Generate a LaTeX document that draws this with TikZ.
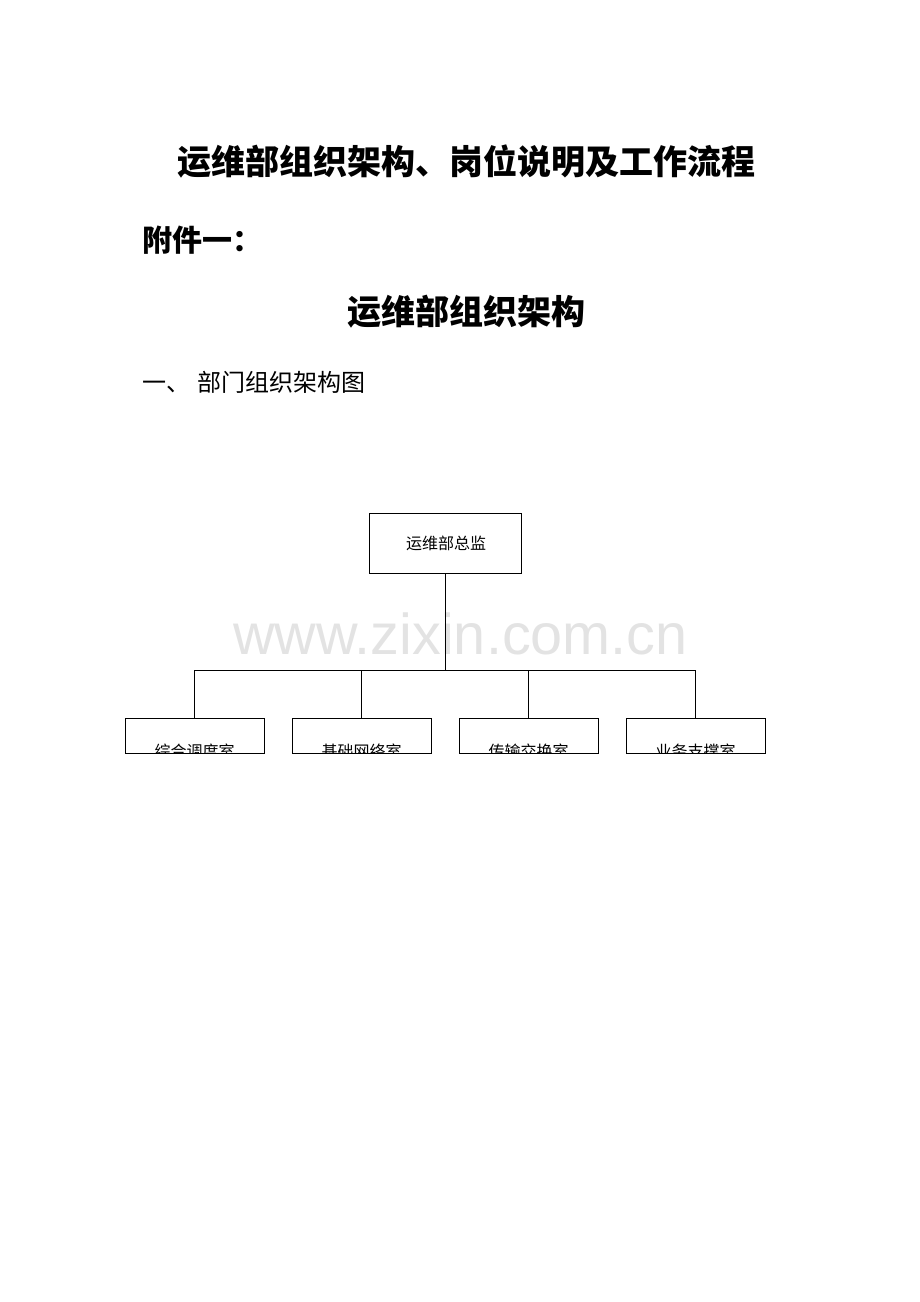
\documentclass[tikz,border=0pt]{standalone}
\usepackage{fontspec}
\newfontfamily\cjk{Noto Sans CJK SC}
\newfontfamily\wmfont{Liberation Sans}
\usepackage{tikz}

\begin{document}
\begin{tikzpicture}[x=1pt, y=-1pt,
  unitbox/.style={draw, line width=0.9pt, inner sep=0pt},
  unittext/.style={inner sep=0pt, font=\cjk\fontsize{16}{16}\selectfont},
  link/.style={draw, line width=0.9pt}]
  \useasboundingbox (0,0) rectangle (920,1302);

  % headings
  \node[inner sep=0pt, font=\cjk\bfseries\fontsize{34}{34}\selectfont] (title) at (466.5,162) {运维部组织架构、岗位说明及工作流程};
  \node[inner sep=0pt, anchor=west, font=\cjk\bfseries\fontsize{30}{30}\selectfont] (annex) at (142,240) {附件一：};
  \node[inner sep=0pt, font=\cjk\bfseries\fontsize{34}{34}\selectfont] (subtitle) at (466.5,312) {运维部组织架构};
  \node[inner sep=0pt, anchor=west, font=\cjk\fontsize{24}{24}\selectfont] (section) at (142,382) {一、\hspace{7pt}部门组织架构图};

  % watermark
  \node[inner sep=0pt, anchor=base west, text=black!11, font=\wmfont\fontsize{57.6}{57.6}\selectfont] (mark) at (233,654) {www.zixin.com.cn};

  % head of department
  \node[unitbox, minimum width=152pt, minimum height=60pt] (head) at (445,543) {};
  \node[unittext] (headtext) at (446,543) {运维部总监};

  % rooms
  \node[unitbox, minimum width=139pt, minimum height=35pt] (dispatch) at (194.5,736) {};
  \node[unitbox, minimum width=139pt, minimum height=35pt] (network) at (361.5,736) {};
  \node[unitbox, minimum width=139pt, minimum height=35pt] (transfer) at (528.5,736) {};
  \node[unitbox, minimum width=139pt, minimum height=35pt] (support) at (695.5,736) {};

  \begin{scope}
    \clip (dispatch.south west) rectangle (dispatch.north east);
    \node[unittext] (dispatchtext) at (194.5,751) {综合调度室};
  \end{scope}
  \begin{scope}
    \clip (network.south west) rectangle (network.north east);
    \node[unittext] (networktext) at (361.5,751) {基础网络室};
  \end{scope}
  \begin{scope}
    \clip (transfer.south west) rectangle (transfer.north east);
    \node[unittext] (transfertext) at (528.5,751) {传输交换室};
  \end{scope}
  \begin{scope}
    \clip (support.south west) rectangle (support.north east);
    \node[unittext] (supporttext) at (695.5,751) {业务支撑室};
  \end{scope}

  % connectors
  \coordinate (bus) at (445,670);
  \draw[link] (head.south) -- (bus);
  \draw[link] (dispatch.north) |- (bus) -| (support.north);
  \draw[link] (network.north) -- (network.north |- bus);
  \draw[link] (transfer.north) -- (transfer.north |- bus);
\end{tikzpicture}
\end{document}
